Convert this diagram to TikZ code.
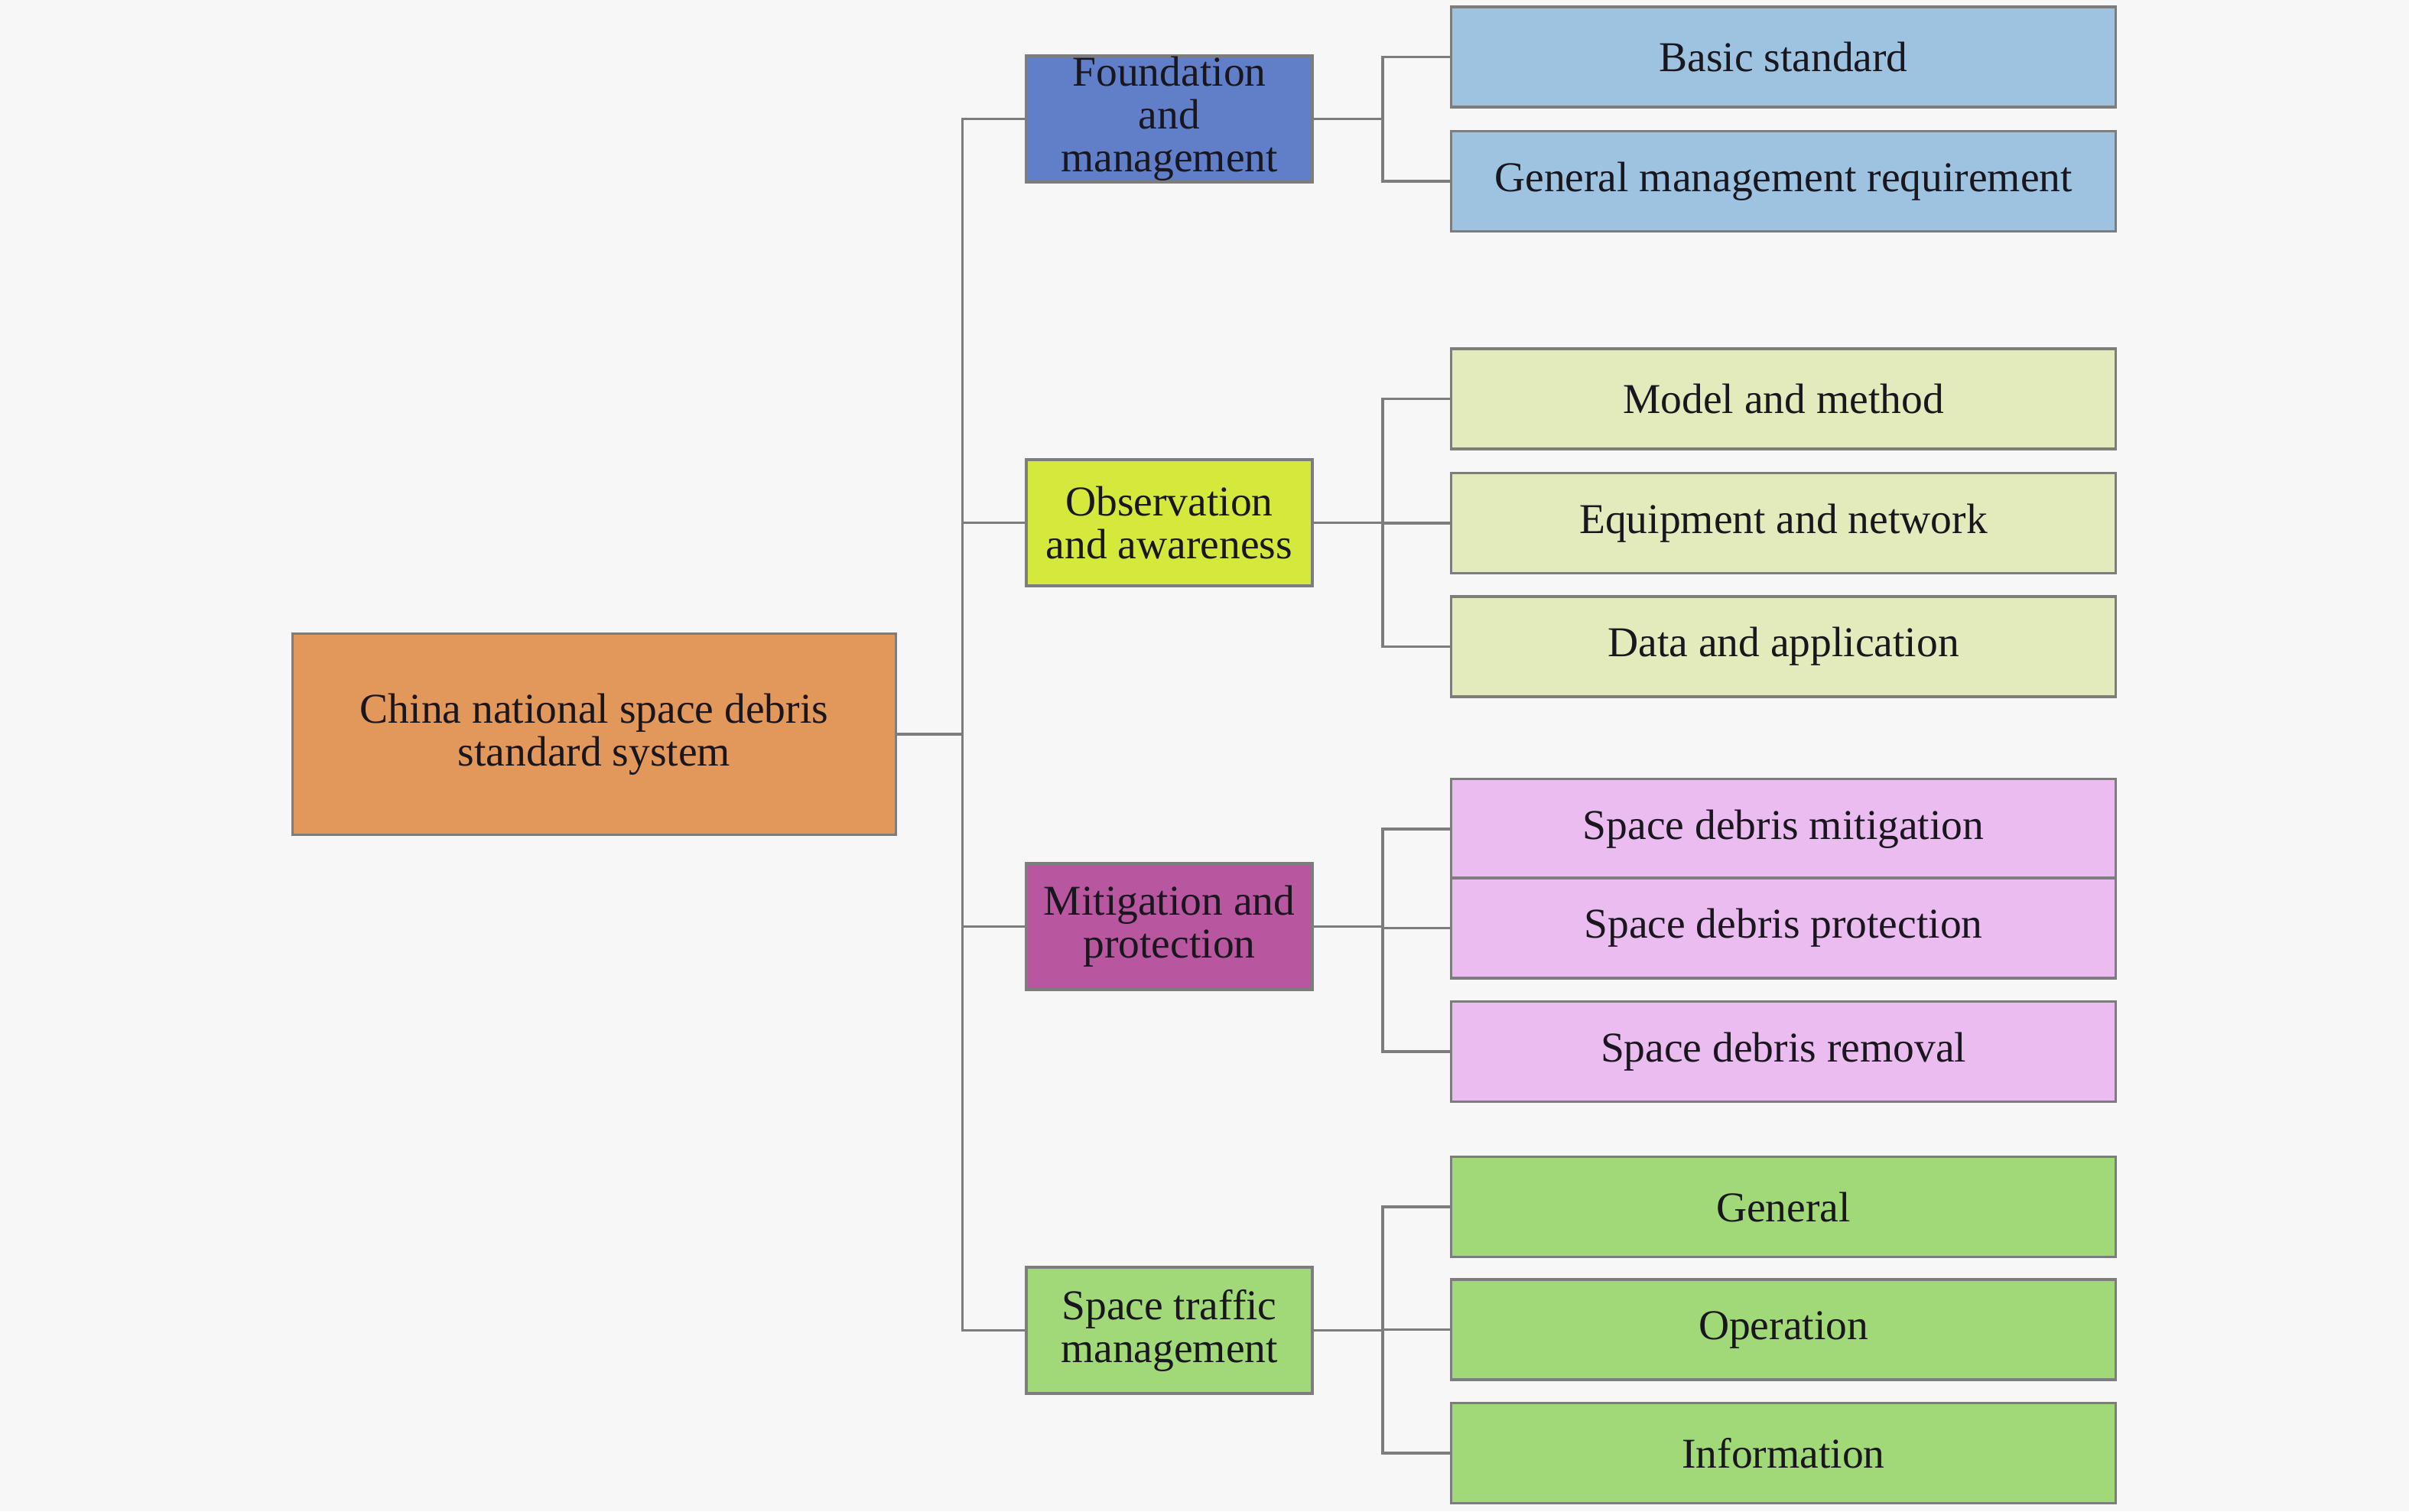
\documentclass[tikz,border=0pt]{standalone}
\usepackage{fontspec}
\setmainfont{Liberation Serif}
\usepackage{tikz}

\definecolor{bgcol}{RGB}{247,247,247}
\definecolor{linecol}{RGB}{125,125,125}
\definecolor{rootcol}{RGB}{226,151,91}
\definecolor{fmcol}{RGB}{96,127,200}
\definecolor{fmleaf}{RGB}{158,195,224}
\definecolor{oacol}{RGB}{212,233,60}
\definecolor{oaleaf}{RGB}{227,234,188}
\definecolor{mpcol}{RGB}{184,86,160}
\definecolor{mpleaf}{RGB}{234,188,240}
\definecolor{stcol}{RGB}{162,217,120}
\definecolor{textcol}{RGB}{25,22,30}

\begin{document}
\begin{tikzpicture}[
  box/.style={draw=linecol,line width=1.1pt,align=center,text=textcol,
    font=\fontsize{15.8}{15.9}\selectfont,inner sep=0pt},
  root/.style={box,fill=rootcol,minimum width=7.89cm,minimum height=2.63cm},
  mid/.style={box,minimum width=3.74cm,minimum height=1.65cm},
  leaf/.style={box,minimum width=8.69cm,minimum height=1.31cm},
  link/.style={draw=linecol,line width=0.9pt}]
\fill[bgcol] (0,0) rectangle (31.5,-19.76);

\node at (7.77,-9.6)[root] (root) {China national space debris\\ standard system};

\node at (15.29,-1.555)[mid,fill=fmcol] (fm) {Foundation\\ and\\ management};
\node at (15.29,-6.835)[mid,fill=oacol] (oa) {Observation\\ and awareness};
\node at (15.29,-12.115)[mid,fill=mpcol] (mp) {Mitigation and\\ protection};
\node at (15.29,-17.395)[mid,fill=stcol] (st) {Space traffic\\ management};

\node at (23.32,-0.745)[leaf,fill=fmleaf] (basic) {Basic standard};
\node at (23.32,-2.37)[leaf,fill=fmleaf] (gmr) {General management requirement};
\node at (23.32,-5.215)[leaf,fill=oaleaf] (model) {Model and method};
\node at (23.32,-6.84)[leaf,fill=oaleaf] (equip) {Equipment and network};
\node at (23.32,-8.455)[leaf,fill=oaleaf] (data) {Data and application};
\node at (23.32,-10.84)[leaf,fill=mpleaf] (mitig) {Space debris mitigation};
\node at (23.32,-12.135)[leaf,fill=mpleaf] (protect) {Space debris protection};
\node at (23.32,-13.75)[leaf,fill=mpleaf] (removal) {Space debris removal};
\node at (23.32,-15.78)[leaf,fill=stcol] (general) {General};
\node at (23.32,-17.385)[leaf,fill=stcol] (oper) {Operation};
\node at (23.32,-19.0)[leaf,fill=stcol] (info) {Information};

\foreach \m in {fm,oa,mp,st}
  \draw[link] (root.east) -- ++(0.85,0) |- (\m.west);
\foreach \l in {basic,gmr}
  \draw[link] (fm.east) -- ++(0.9,0) |- (\l.west);
\foreach \l in {model,equip,data}
  \draw[link] (oa.east) -- ++(0.9,0) |- (\l.west);
\foreach \l in {mitig,protect,removal}
  \draw[link] (mp.east) -- ++(0.9,0) |- (\l.west);
\foreach \l in {general,oper,info}
  \draw[link] (st.east) -- ++(0.9,0) |- (\l.west);
\end{tikzpicture}
\end{document}
